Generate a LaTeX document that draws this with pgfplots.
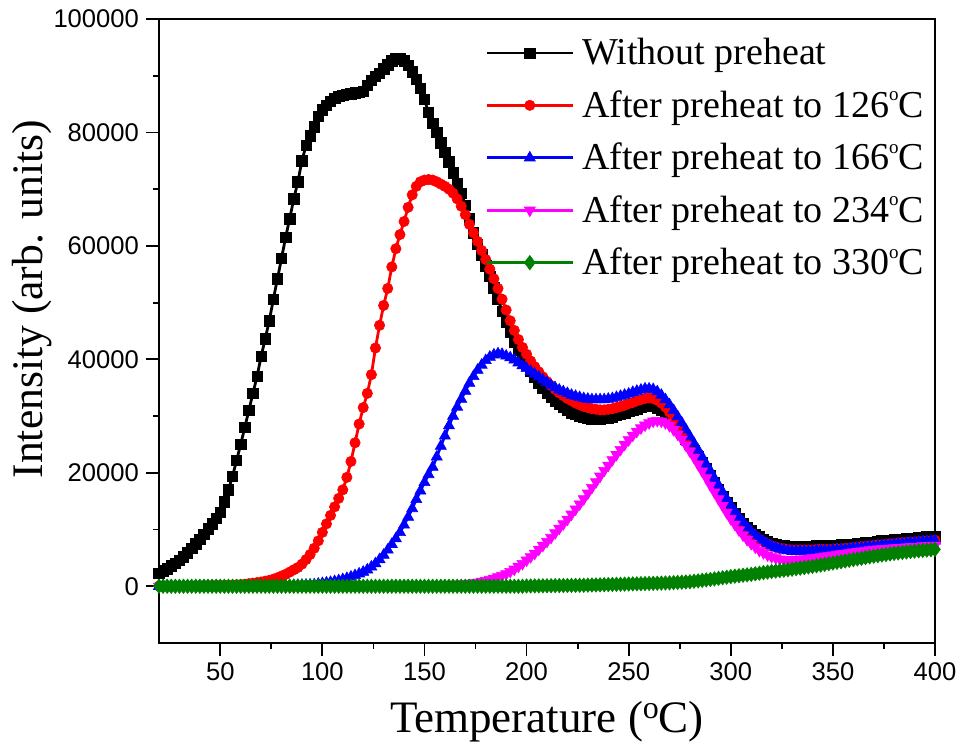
\documentclass[border=0pt]{standalone}
\usepackage{fontspec}
\setmainfont{Liberation Serif}
\newfontfamily\arialfont{Liberation Sans}
\usepackage{pgfplots}
\pgfplotsset{compat=1.18}
\usepackage{pgfplotstable}
\definecolor{cgreen}{RGB}{0,128,0}
\definecolor{cmag}{RGB}{255,0,255}
\newcommand\supo[2]{\raisebox{#2em}{\fontsize{#1}{#1}\selectfont o}}

\pgfplotstableread{
T k r b m g
20 2300 50 0 0 0
22 2700 50 0 0 0
24 3100 50 0 0 0
26 3600 50 0 0 0
28 4100 50 0 0 0
30 4600 50 0 0 0
32 5200 60 0 0 0
34 5900 70 0 0 0
36 6700 80 0 0 0
38 7500 90 0 0 0
40 8300 100 0 0 0
42 9200 110 0 0 0
44 10100 120 0 0 0
46 11000 130 0 0 0
48 12000 140 0 0 0
50 13000 150 0 0 0
52 14900 170 0 0 0
54 17000 190 0 0 0
56 19400 210 0 0 0
58 22200 250 0 0 0
60 25000 300 0 0 0
62 28000 350 20 0 0
64 31000 450 30 0 0
66 34000 550 40 0 0
68 37000 650 50 0 0
70 40500 750 60 0 0
72 43600 900 70 0 0
74 46800 1050 80 0 0
76 50600 1250 90 0 0
78 54200 1500 100 0 0
80 57800 1800 110 0 0
82 61500 2100 120 0 0
84 64800 2500 140 0 0
86 68300 2900 160 0 0
88 71300 3300 180 0 0
90 75000 3900 200 0 0
92 77700 4700 230 0 0
94 79400 5600 260 0 0
96 81000 6700 300 0 0
98 82800 8000 400 0 0
100 84000 9500 500 0 0
102 84800 11000 600 0 0
104 85500 12500 700 0 0
106 86000 14000 850 0 0
108 86400 15500 1000 0 0
110 86600 17000 1200 0 0
112 86700 19200 1400 0 0
114 86800 22000 1650 0 0
116 87000 25300 1900 0 0
118 87100 28600 2200 0 0
120 87300 31500 2500 0 0
122 88300 34000 2900 0 0
124 89200 37300 3400 0 0
126 89900 42000 4000 0 0
128 90400 46000 4700 0 0
130 91200 49500 5500 0 0
132 91900 52500 6400 0 0
134 92600 56300 7400 0 0
136 93000 59500 8400 0 0
138 93000 62000 9500 0 0
140 92600 64300 10800 0 0
142 91800 66800 12200 0 0
144 90700 69000 13700 0 0
146 89400 70500 15300 50 0
148 87800 71300 16800 80 0
150 85800 71600 18300 100 0
152 83500 71700 19700 120 0
154 81600 71600 21000 140 0
156 80000 71300 22800 160 0
158 78200 70900 24700 190 0
160 76500 70500 26500 220 0
162 74800 70000 28300 250 0
164 72900 69300 30000 280 0
166 71000 68300 31600 320 0
168 69300 67000 33000 360 0
170 67200 65500 34400 400 0
172 64800 63800 35800 500 0
174 62300 62300 37000 600 0
176 60300 60800 38100 700 0
178 58400 59200 39000 850 0
180 56500 57600 39800 1000 0
182 54600 55900 40400 1200 0
184 52600 54200 40800 1400 0
186 50600 52500 41000 1650 0
188 48500 50600 40900 1900 0
190 46600 48700 40600 2200 0
192 44800 46800 40300 2600 0
194 43100 45100 39900 3000 0
196 41700 43500 39400 3500 0
198 40300 42100 38900 4000 0
200 39100 40900 38400 4600 50
202 37900 39700 37900 5200 50
204 36800 38700 37400 5800 60
206 35800 37800 36900 6500 70
208 34900 36900 36400 7200 80
210 34100 36100 35900 7900 90
212 33400 35400 35400 8600 100
214 32700 34700 35000 9400 110
216 32100 34100 34600 10200 120
218 31500 33600 34300 11000 130
220 31000 33100 34000 11800 140
222 30600 32700 33700 12700 150
224 30300 32300 33500 13600 160
226 30000 32000 33300 14500 170
228 29800 31700 33100 15400 180
230 29600 31500 33000 16400 200
232 29500 31300 32900 17400 220
234 29500 31200 32900 18400 240
236 29500 31100 32900 19400 260
238 29600 31100 32900 20400 280
240 29700 31200 33000 21300 300
242 29900 31300 33100 22300 320
244 30100 31500 33300 23200 340
246 30400 31700 33500 24100 360
248 30600 31900 33700 25000 380
250 30900 32200 33900 25800 400
252 31100 32400 34200 26600 420
254 31300 32700 34400 27300 440
256 31500 32900 34600 27900 460
258 31700 33100 34800 28400 480
260 31800 33200 34800 28800 500
262 31700 33100 34700 29100 520
264 31400 32800 34300 29200 540
266 31000 32300 33700 29100 560
268 30400 31600 32900 28800 580
270 29600 30700 32000 28300 600
272 28800 29700 31000 27600 640
274 27900 28700 29900 26800 680
276 27000 27600 28800 25900 720
278 26000 26500 27600 24900 760
280 25000 25400 26400 23800 800
282 24000 24300 25200 22700 880
284 22900 23100 24000 21500 960
286 21800 21900 22800 20300 1040
288 20700 20700 21500 19100 1120
290 19500 19500 20300 17800 1200
292 18300 18300 19000 16600 1300
294 17100 17100 17800 15400 1400
296 15900 15900 16600 14200 1500
298 14800 14800 15400 13000 1600
300 13800 13700 14300 11900 1700
302 12800 12700 13200 10900 1780
304 11900 11700 12200 9900 1860
306 11100 10800 11300 9000 1940
308 10400 10000 10400 8200 2020
310 9800 9300 9700 7500 2100
312 9200 8700 9000 6900 2200
314 8700 8200 8400 6300 2300
316 8300 7800 7900 5900 2400
318 7900 7400 7500 5500 2500
320 7600 7100 7100 5200 2600
322 7400 6900 6800 5000 2680
324 7200 6700 6600 4800 2760
326 7100 6600 6400 4700 2840
328 7000 6500 6300 4700 2920
330 7000 6400 6200 4700 3000
332 7000 6400 6200 4700 3100
334 7000 6400 6200 4800 3200
336 7000 6400 6200 4800 3300
338 7000 6400 6200 4900 3400
340 7000 6400 6200 5000 3500
342 7100 6500 6300 5100 3620
344 7100 6500 6300 5200 3740
346 7100 6500 6300 5300 3860
348 7100 6500 6300 5400 3980
350 7200 6500 6400 5500 4100
352 7200 6600 6400 5600 4220
354 7300 6600 6500 5700 4340
356 7300 6700 6500 5800 4460
358 7400 6700 6600 5900 4580
360 7400 6800 6700 6000 4700
362 7500 6900 6800 6100 4820
364 7600 7000 6800 6200 4940
366 7700 7000 6900 6300 5060
368 7700 7100 7000 6400 5180
370 7800 7200 7000 6500 5300
372 7900 7300 7100 6550 5400
374 8000 7300 7200 6600 5500
376 8000 7400 7300 6650 5600
378 8100 7500 7300 6700 5700
380 8200 7500 7400 6750 5800
382 8300 7600 7500 6800 5880
384 8300 7700 7500 6850 5960
386 8400 7700 7600 6900 6040
388 8400 7800 7700 6950 6120
390 8500 7800 7700 7000 6200
392 8600 7900 7800 7050 6260
394 8600 7900 7900 7100 6320
396 8700 8000 7900 7150 6380
398 8800 8000 8000 7200 6440
400 8800 8100 8000 7200 6500
}\datatable

\begin{document}
\begin{tikzpicture}
\begin{axis}[
  scale only axis, width=388pt, height=312pt,
  xmin=20, xmax=400, ymin=-10000, ymax=100000,
  xtick={50,100,150,200,250,300,350,400},
  xticklabels={50,100,150,200,250,300,350,400},
  ytick={0,20000,40000,60000,80000,100000},
  yticklabels={0,20000,40000,60000,80000,100000},
  minor x tick num=1, minor y tick num=1,
  tick align=outside, xtick pos=bottom, ytick pos=left,
  major tick length=6.5pt, minor tick length=3pt,
  axis line style={line width=1pt},
  every tick/.style={line width=0.9pt, black},
  scaled y ticks=false,
  tick label style={font=\arialfont\fontsize{12.8}{14}\selectfont},
  xlabel={Temperature (\supo{16}{0.33}C)},
  ylabel={Intensity (arb. units)},
  xlabel style={font=\fontsize{22.5}{25}\selectfont, at={(axis description cs:0.5,-0.1442)}, anchor=base},
  ylabel style={font=\fontsize{21.8}{24}\selectfont, at={(axis description cs:-0.1495,0.551)}, anchor=base},
  clip mode=individual,
  legend style={draw=none, fill=none, at={(axis description cs:0.4201,0.976)}, anchor=north west,
    font=\fontsize{19}{22}\selectfont, row sep=7.35pt, column sep=2pt, inner sep=0pt},
  legend cell align=left,
  legend image code/.code={\draw[mark repeat=2,mark phase=2] plot coordinates {(0pt,0pt) (21.5pt,0pt) (43pt,0pt)};},
  every axis plot/.append style={line width=1.4pt},
]
\addplot[black, mark=square*, mark size=2.6pt, mark options={line width=0.3pt}] table[x=T,y=k]{\datatable};
\addlegendentry{Without preheat}
\addplot[red, mark=*, mark size=2.6pt, mark options={line width=0.3pt}] table[x=T,y=r]{\datatable};
\addlegendentry{After preheat to 126\supo{9.5}{0.43}C}
\addplot[blue, mark=triangle*, mark size=3.2pt, mark options={line width=0.3pt}] table[x=T,y=b]{\datatable};
\addlegendentry{After preheat to 166\supo{9.5}{0.43}C}
\addplot[cmag, mark=triangle*, mark size=3.2pt, mark options={line width=0.3pt, rotate=180}] table[x=T,y=m]{\datatable};
\addlegendentry{After preheat to 234\supo{9.5}{0.43}C}
\addplot[cgreen, mark=diamond*, mark size=3.6pt, mark options={line width=0.3pt}] table[x=T,y=g]{\datatable};
\addlegendentry{After preheat to 330\supo{9.5}{0.43}C}
\end{axis}
\pgfresetboundingbox
\path[use as bounding box] ([shift={(-79.5pt,-52pt)}]current axis.south west) rectangle ([shift={(14pt,9.5pt)}]current axis.north east);
\end{tikzpicture}
\end{document}
